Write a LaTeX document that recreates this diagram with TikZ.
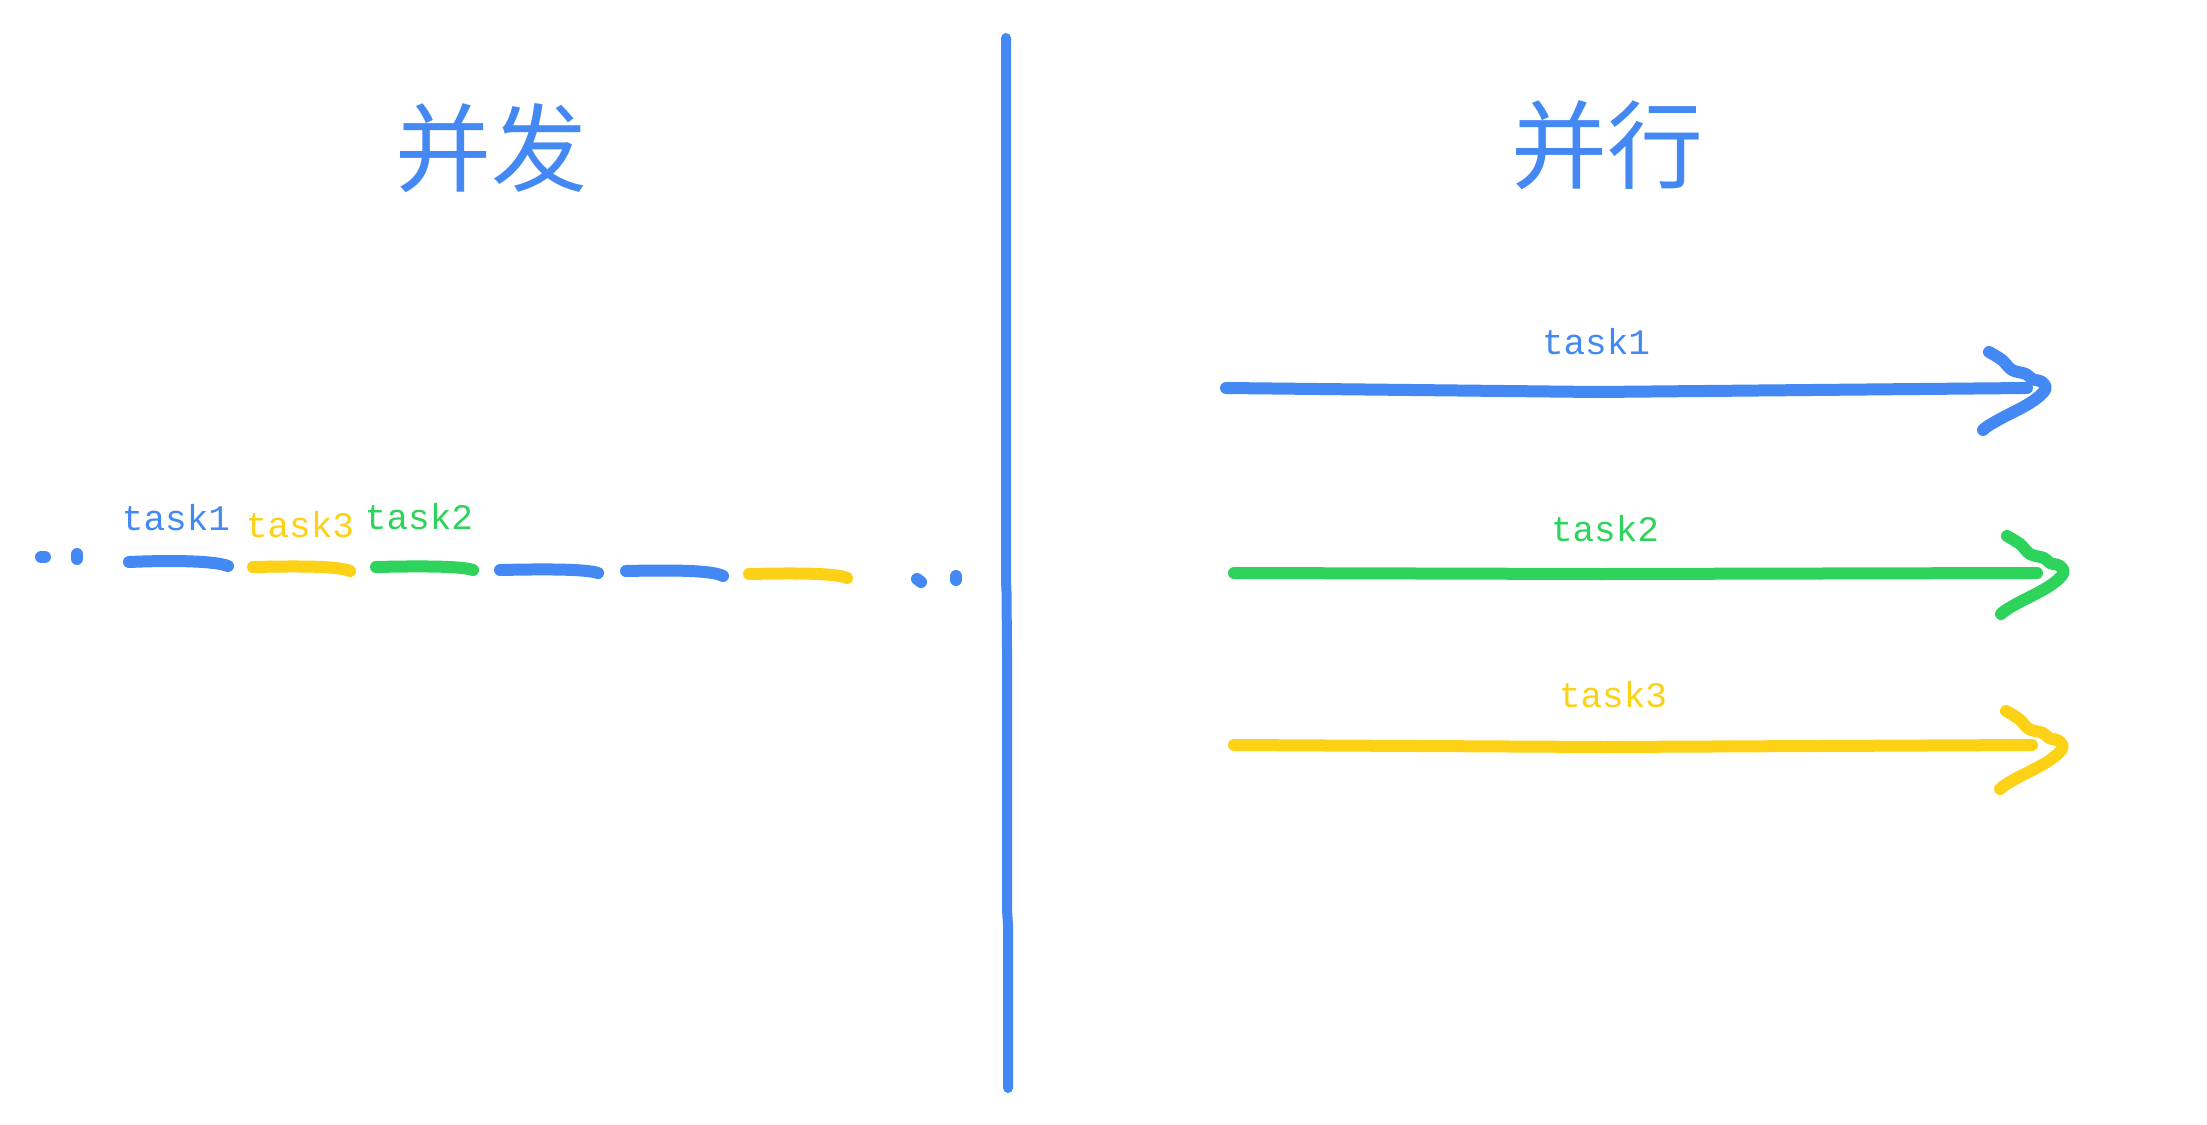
\documentclass[tikz,border=0pt]{standalone}
\usepackage{fontspec}
\newfontfamily\cjk{Noto Sans CJK SC}
\newfontfamily\lbl{Liberation Mono}
\definecolor{gblue}{HTML}{4488F4}
\definecolor{ggreen}{HTML}{2DD35A}
\definecolor{gyellow}{HTML}{FCD116}
\begin{document}
\begin{tikzpicture}[x=1pt,y=-1pt,
  stroke/.style={line width=12pt,line cap=round,line join=round},
  title/.style={font=\cjk\fontsize{96}{100}\selectfont,text=gblue,inner sep=0pt},
  tasklbl/.style={font=\lbl\fontsize{36}{40}\selectfont,inner sep=0pt}]
\useasboundingbox[fill=white] (0,0) rectangle (2207,1124);

% titles
\node[title] (bingfa) at (491,148) {并发};
\node[title] (bingxing) at (1607,145) {并行};

% divider
\draw[stroke,gblue,line width=10pt] (1006,38) -- (1006,580) -- (1006.5,592) -- (1007,650) -- (1007,910) -- (1008,925) -- (1008,1088);

% concurrent timeline
\node[tasklbl,text=gblue] (l1) at (176,518) {task1};
\node[tasklbl,text=gyellow] (l3) at (300,525) {task3};
\node[tasklbl,text=ggreen] (l2) at (419,517) {task2};

\draw[stroke,gblue] (41,557) -- (45,557);
\draw[stroke,gblue] (77,554) -- (77,559);
\draw[stroke,gblue] (129,562) .. controls (175,560) and (215,561) .. (228,566);
\draw[stroke,gyellow] (253,567) .. controls (300,566) and (338,566) .. (350,571);
\draw[stroke,ggreen] (376,567) .. controls (420,566) and (462,566) .. (473,570);
\draw[stroke,gblue] (500,570) .. controls (545,569) and (586,569) .. (598,573);
\draw[stroke,gblue] (626,571) .. controls (670,570) and (712,570) .. (723,576);
\draw[stroke,gyellow] (749,574) .. controls (795,573) and (836,573) .. (847,578);
\draw[stroke,gblue] (917,579) -- (921,582);
\draw[stroke,gblue] (956,576) -- (956,580);

% parallel arrows
\node[tasklbl,text=gblue] (r1) at (1596,342) {task1};
\node[tasklbl,text=ggreen] (r2) at (1605,529) {task2};
\node[tasklbl,text=gyellow] (r3) at (1613,695) {task3};

\draw[stroke,gblue] (1226,388) -- (1597,392) -- (2027,388);
\draw[stroke,gblue] plot[smooth,tension=0.6] coordinates {(1989,352) (2002,360) (2012,370) (2026,374) (2032,379) (2042,382) (2045,390) (2030,403) (2000,419) (1988,426) (1983,430)};

\draw[stroke,ggreen] (1234,573) -- (1602,574) -- (2037,573);
\begin{scope}[shift={(18,184)}]
\draw[stroke,ggreen] plot[smooth,tension=0.6] coordinates {(1989,352) (2002,360) (2012,370) (2026,374) (2032,379) (2042,382) (2045,390) (2030,403) (2000,419) (1988,426) (1983,430)};
\end{scope}

\draw[stroke,gyellow] (1234,745) -- (1604,747) -- (2032,745);
\begin{scope}[shift={(17,359)}]
\draw[stroke,gyellow] plot[smooth,tension=0.6] coordinates {(1989,352) (2002,360) (2012,370) (2026,374) (2032,379) (2042,382) (2045,390) (2030,403) (2000,419) (1988,426) (1983,430)};
\end{scope}
\end{tikzpicture}
\end{document}
